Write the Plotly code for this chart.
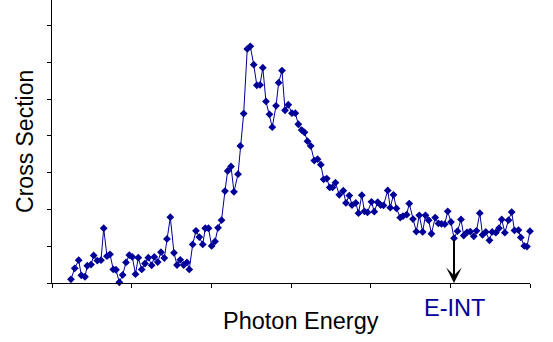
import plotly.graph_objects as go

# Photon energy (arbitrary units) and measured cross section (arbitrary units)
energy = [
    0.238, 0.285, 0.335, 0.368, 0.414, 0.443, 0.490, 0.523, 0.569, 0.615,
    0.649, 0.690, 0.728, 0.769, 0.803, 0.845, 0.887, 0.929, 0.970, 1.008,
    1.048, 1.083, 1.126, 1.167, 1.209, 1.251, 1.284, 1.327, 1.368, 1.410,
    1.443, 1.485, 1.531, 1.569, 1.610, 1.653, 1.694, 1.723, 1.766, 1.807,
    1.849, 1.892, 1.924, 1.964, 2.004, 2.046, 2.084, 2.128, 2.171, 2.205,
    2.247, 2.284, 2.335, 2.364, 2.406, 2.451, 2.489, 2.532, 2.571, 2.611,
    2.646, 2.686, 2.730, 2.765, 2.812, 2.845, 2.887, 2.925, 2.966, 3.012,
    3.054, 3.092, 3.134, 3.169, 3.207, 3.247, 3.292, 3.333, 3.374, 3.410,
    3.449, 3.486, 3.521, 3.558, 3.606, 3.656, 3.690, 3.732, 3.766, 3.813,
    3.847, 3.889, 3.922, 3.960, 4.010, 4.045, 4.088, 4.126, 4.161, 4.214,
    4.246, 4.286, 4.324, 4.371, 4.406, 4.452, 4.484, 4.531, 4.573, 4.610,
    4.653, 4.688, 4.728, 4.763, 4.810, 4.851, 4.889, 4.930, 4.967, 5.008,
    5.046, 5.090, 5.134, 5.168, 5.209, 5.250, 5.294, 5.328, 5.370, 5.404,
    5.445, 5.491, 5.525, 5.571, 5.611, 5.645, 5.684, 5.730, 5.770, 5.805,
    5.855, 5.884, 5.928, 5.962, 6.000,
]
cross_section = [
    0.10, 0.40, 0.62, 0.21, 0.17, 0.47, 0.50, 0.75, 0.61, 0.62,
    1.49, 0.73, 0.78, 0.37, 0.36, 0.02, 0.22, 0.56, 0.76, 0.71,
    0.24, 0.69, 0.37, 0.53, 0.69, 0.48, 0.71, 0.57, 0.84, 0.68,
    1.20, 1.79, 0.82, 0.49, 0.63, 0.49, 0.56, 0.37, 1.05, 1.42,
    1.25, 1.05, 1.49, 1.49, 1.01, 1.13, 1.50, 1.71, 2.50, 3.05,
    3.17, 2.48, 2.96, 3.73, 4.61, 6.37, 6.44, 5.94, 5.38, 5.39,
    5.86, 4.94, 4.59, 4.24, 4.82, 5.45, 5.78, 4.70, 4.85, 4.62,
    4.62, 4.32, 4.16, 4.10, 3.86, 3.73, 3.33, 3.37, 3.22, 2.82,
    2.84, 2.60, 2.60, 2.73, 2.40, 2.51, 2.18, 2.38, 2.12, 2.18,
    1.90, 2.39, 1.95, 1.92, 2.21, 1.94, 2.20, 2.12, 2.11, 2.52,
    2.05, 2.40, 2.03, 1.78, 1.82, 1.86, 2.16, 1.74, 1.40, 1.84,
    1.39, 1.84, 1.71, 1.34, 1.78, 1.62, 1.61, 1.60, 1.95, 1.66,
    1.22, 1.41, 1.73, 1.29, 1.38, 1.40, 1.27, 1.42, 1.90, 1.31,
    1.39, 1.16, 1.39, 1.37, 1.49, 1.73, 1.37, 1.71, 1.93, 1.43,
    1.44, 1.24, 1.01, 0.99, 1.41,
]

# Index of the sample marked as the E-INT threshold
e_int_index = 120
e_int_label = "E-INT"

x_ticks = [0, 1, 2, 3, 4, 5, 6]
y_ticks = [0, 1, 2, 3, 4, 5, 6, 7]

navy = "#000099"
font_family = "Liberation Sans, Arial, sans-serif"

fig = go.Figure()
fig.add_trace(go.Scatter(
    x=energy,
    y=cross_section,
    mode="lines+markers",
    line=dict(color=navy, width=1),
    marker=dict(symbol="diamond", size=6, color=navy),
    cliponaxis=False,
    showlegend=False,
))

e_x = energy[e_int_index]
e_y = cross_section[e_int_index]

# Arrow from the threshold sample down to the energy axis
fig.add_annotation(
    x=e_x, y=0, xref="x", yref="y",
    ax=e_x, ay=e_y, axref="x", ayref="y",
    text="", showarrow=True,
    arrowhead=3, arrowsize=1.3, arrowwidth=2, arrowcolor="black",
    font=dict(size=1),
)
fig.add_annotation(
    x=e_x, y=-0.088, xref="x", yref="paper",
    text=e_int_label, showarrow=False,
    font=dict(family=font_family, size=23.5, color=navy),
    xanchor="center", yanchor="middle",
)
fig.add_annotation(
    x=0.521, y=-0.134, xref="paper", yref="paper",
    text="Photon Energy", showarrow=False,
    font=dict(family=font_family, size=23.5, color="black"),
    xanchor="center", yanchor="middle",
)
fig.add_annotation(
    x=-0.0565, y=0.502, xref="paper", yref="paper",
    text="Cross Section", showarrow=False, textangle=-90,
    font=dict(family=font_family, size=23, color="black"),
    xanchor="center", yanchor="middle",
)

axis_common = dict(
    showgrid=False, zeroline=False, showticklabels=False,
    showline=True, linecolor="black", linewidth=1,
    ticks="outside", tickcolor="black", ticklen=4, tickwidth=1,
    tickmode="array",
)
fig.update_xaxes(range=[0, 6], tickvals=x_ticks, **axis_common)
fig.update_yaxes(range=[0, 7.70], tickvals=y_ticks, **axis_common)

fig.update_layout(
    width=553, height=342,
    margin=dict(l=52, r=23, t=0, b=59),
    paper_bgcolor="white", plot_bgcolor="white",
    font=dict(family=font_family),
)

fig.write_html("out.html")
